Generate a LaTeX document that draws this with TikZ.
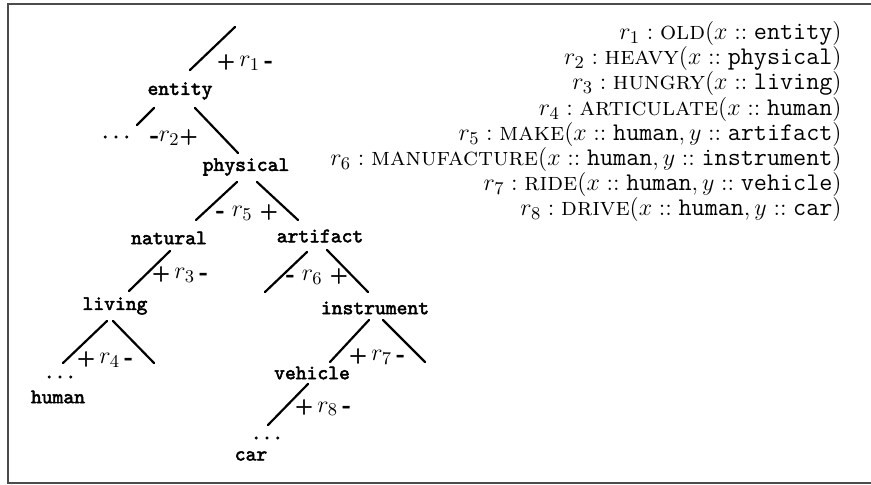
\documentclass[tikz,border=0pt]{standalone}
\usepackage{fontspec}
\newfontfamily\treefont{Latin Modern Mono}[FakeBold=2.5]
\newfontfamily\labfont{Latin Modern Roman}[FakeBold=2]
\newcommand\pls{{\fontsize{10}{12}\selectfont\labfont\bfseries +}}
\newcommand\mns{{\fontsize{11}{12}\selectfont\labfont\bfseries -}}
\usetikzlibrary{calc}
\begin{document}
\begin{tikzpicture}[x=0.5pt,y=-0.5pt,
  tl/.style={font=\fontsize{10.3}{12}\selectfont\treefont\bfseries, inner sep=0pt},
  el/.style={font=\fontsize{13}{15}\selectfont, inner sep=0pt, anchor=base},
  rl/.style={font=\fontsize{12.7}{15}\selectfont, inner sep=0pt, anchor=base east},
  br/.style={line width=1.1pt, line cap=round},
  frame/.style={draw=black!70, line width=1.25pt}]
\useasboundingbox (0,0) rectangle (871,485);
\draw[frame] (8,4) rectangle (873,483);
% tree nodes
\node[tl] (entity) at (180,91) {entity};
\node[tl] (edots) at (116,137) {...};
\node[tl] (physical) at (246,167) {physical};
\node[tl] (natural) at (169,238) {natural};
\node[tl] (artifact) at (320,236) {artifact};
\node[tl] (living) at (115,306) {living};
\node[tl] (instrument) at (375,308) {instrument};
\node[tl] (vehicle) at (312,373) {vehicle};
\node[tl] (hdots) at (60,377) {...};
\node[tl] (human) at (58,397) {human};
\node[tl] (cdots) at (267,438) {...};
\node[tl] (car) at (251,456) {car};
% edge labels
\node[el] (l1) at (245,67) {\pls\,$r_{1}$\,\mns};
\node[el] (l2) at (174,142) {\mns$r_{2}$\pls};
\node[el] (l5) at (247,217) {\mns\;$r_{5}$\;\pls};
\node[el] (l3) at (180,279) {\pls\,$r_{3}$\,\mns};
\node[el] (l6) at (317,281) {\mns\;$r_{6}$\;\pls};
\node[el] (l4) at (105,364) {\pls\,$r_{4}$\,\mns};
\node[el] (l7) at (377,361) {\pls\,$r_{7}$\,\mns};
\node[el] (l8) at (323,412) {\pls\,$r_{8}$\,\mns};
% branches
\draw[br] ($(entity)+(10,-21)$) -- ++(45,-43);
\draw[br] ($(entity)+(-26,17)$) -- ($(edots)+(21,-12)$);
\draw[br] ($(entity)+(15,17)$) -- ($(physical)+(-8,-14)$);
\draw[br] ($(physical)+(-9,15)$) -- ($(natural)+(27,-18)$);
\draw[br] ($(physical)+(11,15)$) -- ($(artifact)+(-22,-16)$);
\draw[br] ($(natural)+(1,13)$) -- ($(living)+(14,-15)$);
\draw[br] ($(artifact)+(-13,16)$) -- ++(-42,40);
\draw[br] ($(artifact)+(7,14)$) -- ($(instrument)+(-7,-16)$);
\draw[br] ($(living)+(-8,15)$) -- ($(hdots)+(3,-14)$);
\draw[br] ($(living)+(-2,15)$) -- ++(41,42);
\draw[br] ($(instrument)+(-6,12)$) -- ($(vehicle)+(18,-11)$);
\draw[br] ($(instrument)+(8,12)$) -- ++(42,42);
\draw[br] ($(vehicle)+(-4,11)$) -- ($(cdots)+(1,-13)$);
% rule list
\node[rl] (r1) at (842,40) {$r_1 : \textsc{old}(x :: \texttt{entity})$};
\node[rl] (r2) at (842,65) {$r_2 : \textsc{heavy}(x :: \texttt{physical})$};
\node[rl] (r3) at (842,90) {$r_3 : \textsc{hungry}(x :: \texttt{living})$};
\node[rl] (r4) at (842,115.5) {$r_4 : \textsc{articulate}(x :: \texttt{human})$};
\node[rl] (r5) at (842,140.5) {$r_5 : \textsc{make}(x :: \texttt{human}, y :: \texttt{artifact})$};
\node[rl] (r6) at (842,166) {$r_6 : \textsc{manufacture}(x :: \texttt{human}, y :: \texttt{instrument})$};
\node[rl] (r7) at (842,191) {$r_7 : \textsc{ride}(x :: \texttt{human}, y :: \texttt{vehicle})$};
\node[rl] (r8) at (842,216) {$r_8 : \textsc{drive}(x :: \texttt{human}, y :: \texttt{car})$};
\end{tikzpicture}
\end{document}
